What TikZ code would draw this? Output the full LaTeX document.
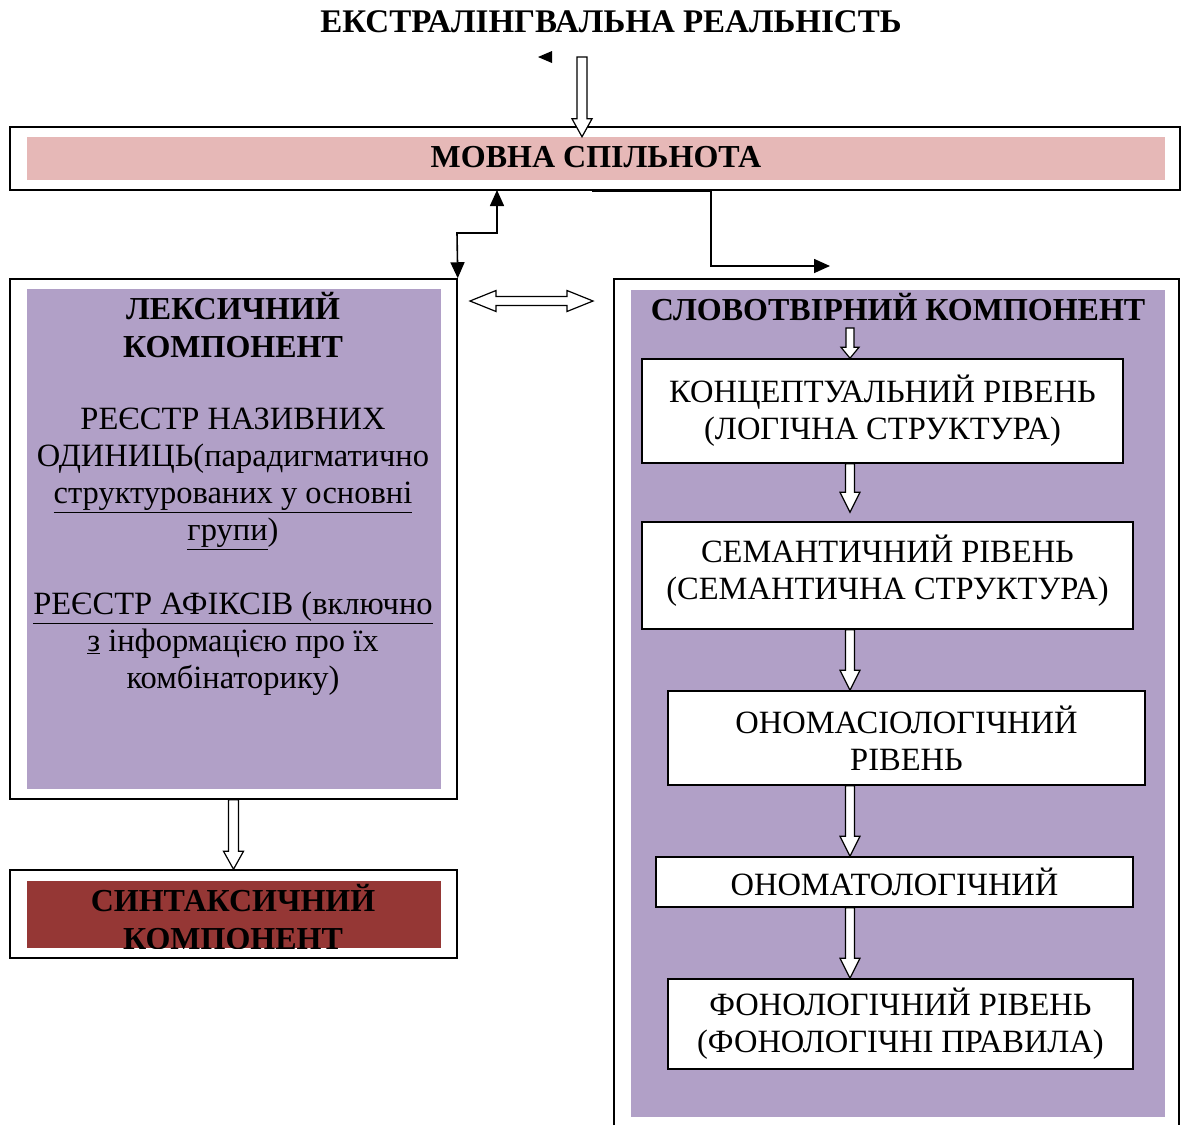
\documentclass[tikz,border=0pt]{standalone}
\usepackage{fontspec}
\setmainfont{Liberation Serif}
\usetikzlibrary{arrows.meta,calc}
\definecolor{pinkfill}{HTML}{E6B8B7}
\definecolor{lilac}{HTML}{B1A0C7}
\definecolor{brick}{HTML}{953735}

\tikzset{
  txt/.style={font=\fontsize{32.5}{37}\selectfont, align=center, inner sep=0pt},
  btxt/.style={font=\fontsize{32}{38}\selectfont\bfseries, align=center, inner sep=0pt},
  ttl/.style={font=\fontsize{33}{38}\selectfont\bfseries, inner sep=0pt},
  frame/.style={draw, line width=1.5pt, inner sep=0pt},
  panel/.style={draw=none, inner sep=0pt},
  level/.style={draw, line width=1.5pt, fill=white, inner sep=0pt,
    font=\fontsize{32.5}{37}\selectfont, align=center},
  % hollow block arrow pointing down: half shaft, half head, head length
  downblock/.style n args={3}{draw, line width=1.2pt, fill=white,
    to path={let \p1=(\tikztostart), \p2=(\tikztotarget) in
      (\x1-#1,\y1) -- (\x1-#1,\y2+#3) -- (\x1-#2,\y2+#3) -- (\x1,\y2)
      -- (\x1+#2,\y2+#3) -- (\x1+#1,\y2+#3) -- (\x1+#1,\y1) -- cycle}},
  % hollow block arrow with heads at both ends, horizontal
  twinblock/.style n args={3}{draw, line width=1.2pt, fill=white,
    to path={let \p1=(\tikztostart), \p2=(\tikztotarget) in
      (\x1,\y1) -- (\x1+#3,\y1+#2) -- (\x1+#3,\y1+#1) -- (\x2-#3,\y1+#1)
      -- (\x2-#3,\y1+#2) -- (\x2,\y1) -- (\x2-#3,\y1-#2) -- (\x2-#3,\y1-#1)
      -- (\x1+#3,\y1-#1) -- (\x1+#3,\y1-#2) -- cycle}},
  link/.style={line width=1.6pt},
  tip/.style={-{Triangle[length=16pt,width=14pt]}},
}

\begin{document}
\begin{tikzpicture}[x=1pt,y=-1pt]
\useasboundingbox (0,0) rectangle (1181,1125);

% title
\node[ttl] (ext) at (611,22) {ЕКСТРАЛІНГВАЛЬНА РЕАЛЬНІСТЬ};
\fill (538,57) -- (552,51) -- (552,63) -- cycle;
\coordinate (extfoot) at (582,57);

% language community bar
\node[frame, minimum width=1170pt, minimum height=63pt] (movout) at (595,158.5) {};
\node[panel, fill=pinkfill, minimum width=1138pt, minimum height=43pt] (movfill) at (596,158.5) {};
\node[btxt] (mov) at (596,157) {МОВНА СПІЛЬНОТА};

% lexical component
\node[frame, minimum width=447pt, minimum height=520pt] (lexout) at (233.5,539) {};
\node[panel, fill=lilac, minimum width=414pt, minimum height=500pt] (lexfill) at (234,539) {};
\node[btxt] (lexhead) at (233,325) {ЛЕКСИЧНИЙ\\КОМПОНЕНТ};
\node[txt] (lexreg) at (233,479) {РЕЄСТР НАЗИВНИХ\\ОДИНИЦЬ(парадигматично\\\underline{структурованих у основні}\\\underline{групи})};
\node[txt] (lexaff) at (233,644) {\underline{РЕЄСТР АФІКСІВ (включно}\\\underline{з} інформацією про їх\\комбінаторику)};

% syntactic component
\node[frame, minimum width=447pt, minimum height=88pt] (synout) at (233.5,914) {};
\node[panel, fill=brick, minimum width=414pt, minimum height=67pt] (synfill) at (234,914.5) {};
\begin{scope}
  \clip (27,881) rectangle (441,948);
  \node[btxt] (syn) at (233,917) {СИНТАКСИЧНИЙ\\КОМПОНЕНТ};
\end{scope}

% word-formation component
\draw[line width=1.5pt] (614,1125) -- (614,279) -- (1179,279) -- (1179,1125);
\fill[lilac] (631,290) rectangle (1165,1117);
\node[btxt] (slov) at (898,307) {СЛОВОТВІРНИЙ КОМПОНЕНТ};

\node[level, minimum width=481pt, minimum height=104pt] (b1) at (882.5,411) {КОНЦЕПТУАЛЬНИЙ РІВЕНЬ\\(ЛОГІЧНА СТРУКТУРА)};
\node[level, minimum width=491pt, minimum height=107pt, text depth=16pt] (b2) at (887.5,575.5) {СЕМАНТИЧНИЙ РІВЕНЬ\\(СЕМАНТИЧНА СТРУКТУРА)};
\node[level, minimum width=477pt, minimum height=94pt] (b3) at (906.5,738) {ОНОМАСІОЛОГІЧНИЙ\\РІВЕНЬ};
\node[level, minimum width=477pt, minimum height=50pt] (b4) at (894.5,882) {ОНОМАТОЛОГІЧНИЙ};
\node[level, minimum width=465pt, minimum height=90pt] (b5) at (900.5,1024) {ФОНОЛОГІЧНИЙ РІВЕНЬ\\(ФОНОЛОГІЧНІ ПРАВИЛА)};

% block arrows
\path[downblock={5pt}{10pt}{18pt}] (extfoot) to (extfoot |- movfill.north);
\path[downblock={5pt}{10pt}{18pt}] (lexout.south) to (synout.north);
\coordinate (slovfoot) at (850,328);
\path[downblock={4pt}{9pt}{11pt}] (slovfoot) to (slovfoot |- b1.north);
\path[downblock={4.5pt}{10pt}{20pt}] (slovfoot |- b1.south) to ($(slovfoot |- b2.north)+(0,-9)$);
\path[downblock={4.5pt}{10pt}{20pt}] (slovfoot |- b2.south) to (slovfoot |- b3.north);
\path[downblock={4.5pt}{10pt}{20pt}] (slovfoot |- b3.south) to (slovfoot |- b4.north);
\path[downblock={4.5pt}{10pt}{20pt}] (slovfoot |- b4.south) to (slovfoot |- b5.north);
\coordinate (twinL) at (470,301);
\coordinate (twinR) at (593,301);
\path[twinblock={4.5pt}{10.5pt}{26pt}] (twinL) to (twinR);

% line connectors
\coordinate (upend) at (497,190);
\coordinate (bend1) at (497,233);
\coordinate (bend2) at (457,233);
\draw[link, {Triangle[length=16pt,width=14pt]}-{Triangle[length=16pt,width=14pt]}]
  (lexout.north east) -- (bend2) -- (bend1) -- (upend);
\coordinate (seg) at (592,190);
\coordinate (drop) at (711,190);
\coordinate (turn) at (711,266);
\coordinate (slovin) at (830,266);
\draw[line width=3pt] (seg) -- (drop);
\draw[link, tip] (drop) -- (turn) -- (slovin);
\end{tikzpicture}
\end{document}
